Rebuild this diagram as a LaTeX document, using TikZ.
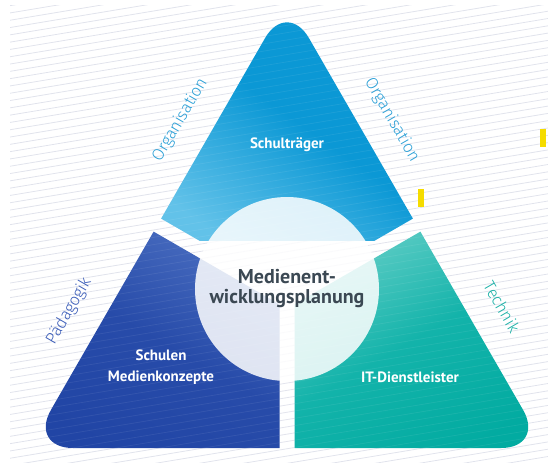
\documentclass[tikz,border=0pt]{standalone}
\usepackage{fontspec}
\setmainfont{PT Sans}
\newfontfamily\sidefont{Fira Sans}[UprightFont=* Light]

\definecolor{stripe}{HTML}{E1E3EC}
\definecolor{topdark}{HTML}{0B98D5}
\definecolor{toplight}{HTML}{62C2E9}
\definecolor{leftlight}{HTML}{4C70C2}
\definecolor{leftdark}{HTML}{2145A5}
\definecolor{rightlight}{HTML}{66CFC8}
\definecolor{rightmid}{HTML}{13B3AA}
\definecolor{rightdark}{HTML}{02ABA1}
\definecolor{orgblue}{HTML}{2A9FD6}
\definecolor{paedblue}{HTML}{3A5CB8}
\definecolor{techteal}{HTML}{1AB0A6}
\definecolor{mepgray}{HTML}{3B4853}
\definecolor{markyellow}{HTML}{F5DC00}

\tikzset{
  seglabel/.style={text=white, font=\bfseries\fontsize{15}{21}\selectfont, align=center},
  sidelabel/.style={font=\sidefont\fontsize{16.5}{18}\selectfont},
  meplabel/.style={circle, fill=white, fill opacity=0.85, text opacity=1, text=mepgray,
    minimum size=184pt, inner sep=0pt, align=center, font=\bfseries\fontsize{20}{20}\selectfont},
}

% outline of the rounded triangle
\def\tri{(287,448) -- (545,448) -- (287,0) -- (29,448) -- cycle}

\begin{document}
\begin{tikzpicture}[x=1pt,y=-1pt]
\useasboundingbox (0,0) rectangle (548,464);

% striped background
\begin{scope}
\clip (10,5) rectangle (548,462);
\foreach \y in {0,7.3,...,560} {
  \draw[stripe, line width=0.8pt] (0,\y) -- (548,\y-91);
}
\end{scope}

% Schultraeger
\begin{scope}
\clip (287,291.3) -- (27.2,141.3) -- (27,-20) -- (547,-20) -- (546.8,141.3) -- cycle;
\clip[rounded corners=44pt] \tri;
\shade[top color=topdark, bottom color=toplight, middle color=topdark, shading angle=-35] (130,-10) rectangle (445,240);
\end{scope}

% Schulen
\begin{scope}
\clip (279.5,304.3) -- (19.7,154.3) -- (-60,500) -- (279.5,500) -- cycle;
\clip[rounded corners=44pt] \tri;
\shade[top color=leftlight, bottom color=leftdark, middle color=leftdark!85!leftlight, shading angle=-30] (20,215) rectangle (285,455);
\end{scope}

% IT-Dienstleister
\begin{scope}
\clip (294.5,304.3) -- (554.3,154.3) -- (620,500) -- (294.5,500) -- cycle;
\clip[rounded corners=44pt] \tri;
\shade[top color=rightlight, bottom color=rightdark, middle color=rightmid, shading angle=30] (290,215) rectangle (555,455);
\end{scope}

% faint stripes over the segments
\begin{scope}
\clip[rounded corners=44pt] \tri;
\foreach \y in {0,7.3,...,560} {
  \draw[white, opacity=0.07, line width=0.8pt] (0,\y) -- (548,\y-91);
}
\end{scope}

\node[meplabel] (mep) at (287,289) {Medienent-\\wicklungsplanung};

\node[seglabel] (schultraeger) at (287,145) {Schulträger};
\node[seglabel] (schulen) at (161,367) {Schulen\\Medienkonzepte};
\node[seglabel] (itdl) at (410,377) {IT-Dienstleister};

\node[sidelabel, text=orgblue, rotate=60] (orgL) at (180,120) {Organisation};
\node[sidelabel, text=orgblue, rotate=-60] (orgR) at (392,120) {Organisation};
\node[sidelabel, text=paedblue, rotate=60] (paed) at (69,311) {Pädagogik};
\node[sidelabel, text=techteal, rotate=-60] (technik) at (502,307) {Technik};

\fill[markyellow] (418,189) rectangle (424,207);
\fill[markyellow] (540,129) rectangle (546,147);
\end{tikzpicture}
\end{document}
